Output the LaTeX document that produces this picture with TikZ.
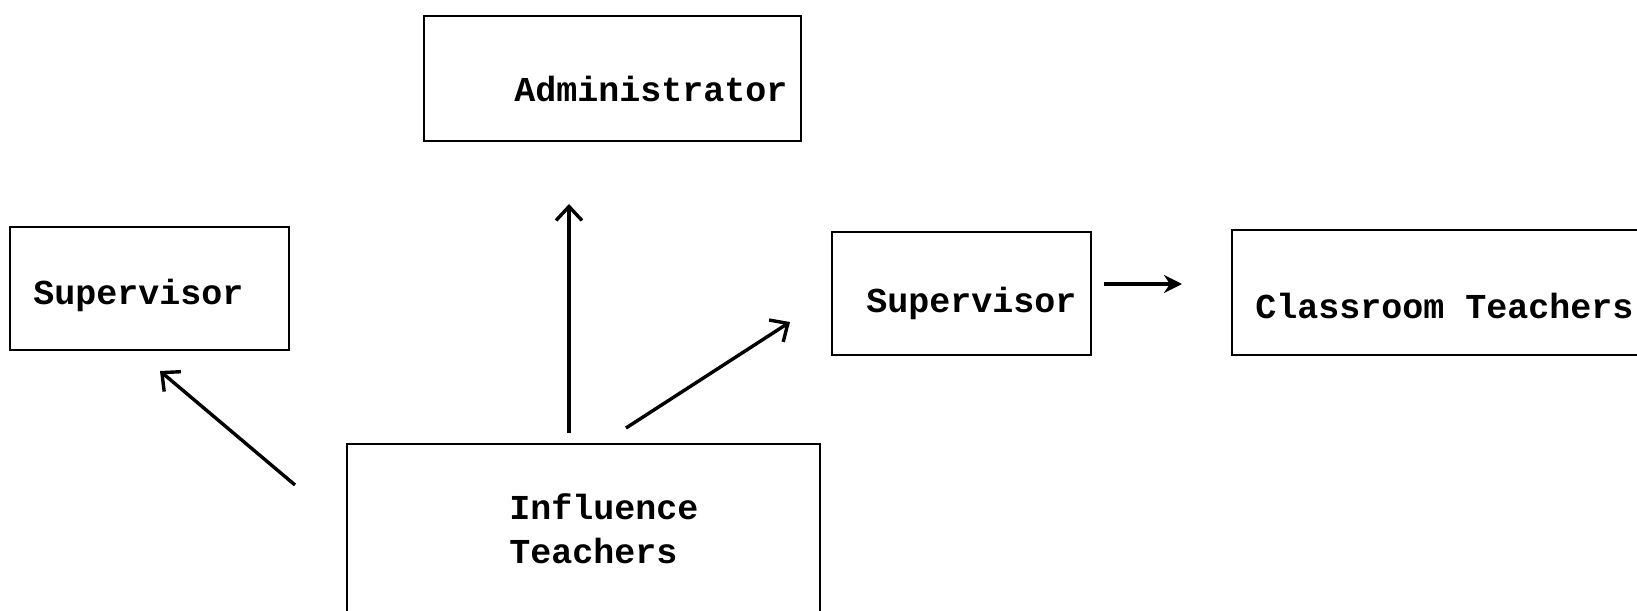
\documentclass[tikz,border=0pt]{standalone}
\usepackage{fontspec}
\setmonofont{Liberation Mono}
\usetikzlibrary{arrows.meta}
\begin{document}
\begin{tikzpicture}[x=0.5pt,y=-0.5pt,
  box/.style={draw=black, line width=1.4pt, rectangle, inner sep=0pt},
  lbl/.style={font=\ttfamily\bfseries\fontsize{17.5pt}{22pt}\selectfont, inner sep=0pt, anchor=west, align=left},
  arr/.style={line width=1.7pt, -{Straight Barb[length=7pt,width=13pt,line width=1.7pt]}},
  sarr/.style={line width=1.7pt, -{Stealth[length=9pt,width=9pt]}}]
\useasboundingbox (0,0) rectangle (1637,610);
\clip (0,0) rectangle (1637,610);
% boxes
\node[box, minimum width=188.5pt, minimum height=62.5pt] (adm) at (612.5,78.5) {};
\node[box, minimum width=139.5pt, minimum height=61.5pt] (sup1) at (149.5,288.5) {};
\node[box, minimum width=129.5pt, minimum height=61.5pt] (sup2) at (961.5,293.5) {};
\node[box, minimum width=210pt, minimum height=62.5pt] (cls) at (1442,292.5) {};
\node[box, minimum width=236.5pt, minimum height=90pt] (inf) at (583.5,534) {};
% labels
\node[lbl] (admt) at (514,89) {Administrator};
\node[lbl] (sup1t) at (33,295) {Supervisor};
\node[lbl] (sup2t) at (866,303) {Supervisor};
\node[lbl] (clst) at (1255,306) {Classroom Teachers};
\node[lbl, anchor=north west] (inft) at (509,493) {Influence\\Teachers};
% connector end points
\coordinate (a1s) at (569,433);
\coordinate (a1e) at (569,204);
\coordinate (a2s) at (626,428);
\coordinate (a2e) at (790,322);
\coordinate (a3s) at (295,485);
\coordinate (a3e) at (160,371);
\coordinate (a4s) at (1104,284);
\coordinate (a4e) at (1182,284);
\draw[arr] (a1s) -- (a1e);
\draw[arr] (a2s) -- (a2e);
\draw[arr] (a3s) -- (a3e);
\draw[sarr] (a4s) -- (a4e);
\end{tikzpicture}
\end{document}
